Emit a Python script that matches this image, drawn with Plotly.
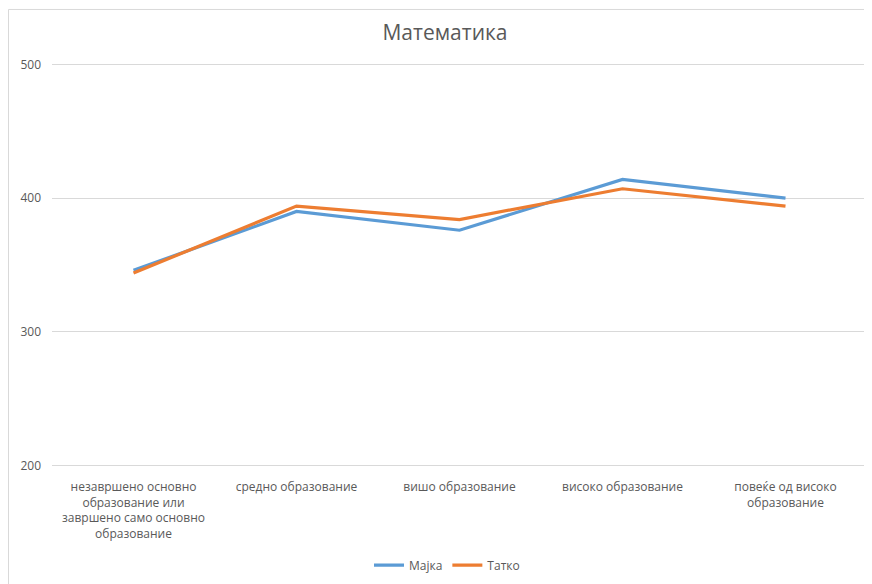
import plotly.graph_objects as go

categories = [
    "незавршено основно<br>образование или<br>завршено само основно<br>образование",
    "средно образование",
    "вишо образование",
    "високо образование",
    "повеќе од високо<br>образование",
]
majka = [346, 390, 376, 414, 400]
tatko = [344, 394, 384, 407, 394]
y_ticks = [200, 300, 400, 500]

FONT = "Open Sans"
GREY = "#595959"

# page body has an 8px margin in the browser
PAD = 4            # value padding so the edge gridlines get drawn
SCALE = 1.35       # px per unit
L, R = 44, 13
T = round(56 - PAD * SCALE)
PH = round((300 + 2 * PAD) * SCALE)
B = 584 - T - PH
PW = 872 - L - R

fig = go.Figure()
fig.add_trace(go.Scatter(x=categories, y=majka, mode="lines", name="Мајка",
                         line=dict(color="#5B9BD5", width=3.2)))
fig.add_trace(go.Scatter(x=categories, y=tatko, mode="lines", name="Татко",
                         line=dict(color="#ED7D31", width=3.2)))

fig.update_layout(
    width=872, height=584,
    margin=dict(l=L, r=R, t=T, b=B),
    paper_bgcolor="white", plot_bgcolor="white",
    font=dict(family=FONT, size=12, color=GREY),
    title=dict(text="Математика", x=437 / 872, xanchor="center",
               y=1 - 25 / 584, yanchor="middle",
               font=dict(family=FONT, size=21, color=GREY)),
    showlegend=True,
    legend=dict(orientation="h", x=(439 - L) / PW, xanchor="center",
                y=-(562 - (T + PH)) / PH, yanchor="middle",
                font=dict(family=FONT, size=12, color=GREY), itemwidth=30,
                tracegroupgap=0),
    xaxis=dict(showgrid=False, showline=False, zeroline=False, ticks="",
               ticklabelstandoff=7,
               tickfont=dict(family=FONT, size=12, color=GREY),
               range=[-0.5, 4.5]),
    yaxis=dict(range=[200 - PAD, 500 + PAD], tickvals=y_ticks, showgrid=True,
               gridcolor="#D9D9D9", gridwidth=1, zeroline=False, showline=False,
               ticks="", ticklabelstandoff=10,
               tickfont=dict(family=FONT, size=12, color=GREY)),
    shapes=[dict(type="rect", xref="paper", yref="paper",
                 x0=(0.5 - L) / PW, x1=1.2, y0=-0.5, y1=1 + (T - 1) / PH,
                 line=dict(color="#D9D9D9", width=1), fillcolor="rgba(0,0,0,0)",
                 layer="below")],
)

fig.write_html("out.html")
